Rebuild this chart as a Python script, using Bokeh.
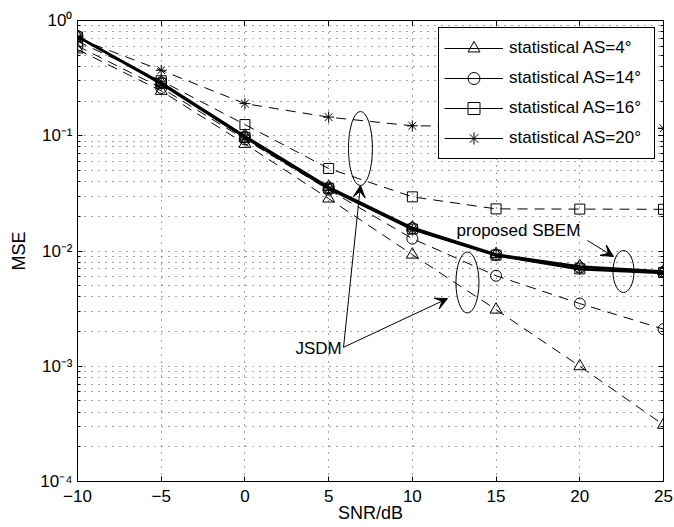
from bokeh.plotting import figure
from bokeh.models import (Range1d, FixedTicker, CustomJSTickFormatter, LinearAxis, LogAxis,
                          Legend, LegendItem, Label, Arrow, VeeHead)
from bokeh.core.properties import value
from bokeh.embed import file_html
from bokeh.resources import INLINE

# ---------------- data ----------------
snr = [-10, -5, 0, 5, 10, 15, 20, 25]

# statistical (JSDM) curves, dashed
stat_as4 = [0.56, 0.245, 0.085, 0.0285, 0.0093, 0.0031, 0.00100, 0.00031]
stat_as14 = [0.60, 0.26, 0.093, 0.034, 0.0128, 0.0061, 0.0035, 0.0021]
stat_as16 = [0.66, 0.30, 0.125, 0.052, 0.0295, 0.0232, 0.0231, 0.0230]
stat_as20 = [0.70, 0.37, 0.19, 0.145, 0.122, 0.120, 0.118, 0.116]

# proposed SBEM curves, solid
sbem_as4 = [0.73, 0.29, 0.100, 0.0360, 0.0160, 0.0094, 0.0074, 0.0067]
sbem_as14 = [0.73, 0.29, 0.098, 0.0355, 0.0158, 0.0093, 0.0072, 0.0066]
sbem_as16 = [0.72, 0.285, 0.097, 0.0350, 0.0155, 0.0092, 0.0070, 0.0065]
sbem_as20 = [0.72, 0.28, 0.096, 0.0345, 0.0153, 0.0091, 0.0069, 0.0064]

legend_labels = ["statistical AS=4°", "statistical AS=14°",
                 "statistical AS=16°", "statistical AS=20°"]

x_ticks = [-10, -5, 0, 5, 10, 15, 20, 25]
x_tick_labels = ["\u221210", "\u22125", "0", "5", "10", "15", "20", "25"]
y_ticks = [1e-4, 1e-3, 1e-2, 1e-1, 1.0]
y_tick_labels = ["10\u207b\u2074", "10\u207b\u00b3", "10\u207b\u00b2", "10\u207b\u00b9", "10\u2070"]
y_minor = [k * 10.0 ** e for e in range(-4, 0) for k in range(2, 10)]

FONT = "Liberation Sans"
NAN = float("nan")

# ---------------- figure ----------------
p = figure(width=674, height=527, x_range=Range1d(-10, 25), y_range=Range1d(1e-4, 1),
           y_axis_type="log", output_backend="svg", toolbar_location=None,
           min_border_left=77, min_border_right=11, min_border_top=20, min_border_bottom=46)
p.background_fill_color = "white"
p.outline_line_color = "black"
p.outline_line_width = 1

fmt_code = """
let best = 0, bd = Infinity;
for (let i = 0; i < tvals.length; i++) {
  const d = Math.abs(sc(tick) - sc(tvals[i]));
  if (d < bd) { bd = d; best = i; }
}
return tlabels[best];
"""
xfmt = CustomJSTickFormatter(args=dict(tvals=x_ticks, tlabels=x_tick_labels),
                             code="const sc = (v) => v;" + fmt_code)
yfmt = CustomJSTickFormatter(args=dict(tvals=y_ticks, tlabels=y_tick_labels),
                             code="const sc = (v) => Math.log10(v);" + fmt_code)

xa = p.xaxis[0]
xa.ticker = FixedTicker(ticks=x_ticks)
xa.formatter = xfmt
xa.axis_label = "SNR/dB"
ya = p.yaxis[0]
ya.ticker = FixedTicker(ticks=y_ticks, minor_ticks=y_minor)
ya.formatter = yfmt
ya.axis_label = "MSE"

for ax in (xa, ya):
    ax.axis_line_color = "black"
    ax.major_tick_line_color = "black"
    ax.minor_tick_line_color = "black"
    ax.major_tick_in = 5
    ax.major_tick_out = 0
    ax.minor_tick_in = 3
    ax.minor_tick_out = 0
    ax.major_label_text_font = FONT
    ax.major_label_text_font_size = "17px"
    ax.major_label_text_color = "black"
    ax.axis_label_text_font = FONT
    ax.axis_label_text_font_size = "18px"
    ax.axis_label_text_font_style = "normal"
    ax.axis_label_text_color = "black"
xa.major_label_standoff = 8
xa.axis_label_standoff = -2
ya.major_label_standoff = 5
ya.axis_label_standoff = 8

top = LinearAxis(ticker=FixedTicker(ticks=x_ticks), major_label_text_font_size="1px",
                 major_label_text_alpha=0, major_tick_in=5, major_tick_out=0,
                 major_label_standoff=0,
                 axis_line_color="black", major_tick_line_color="black")
right = LogAxis(ticker=FixedTicker(ticks=y_ticks, minor_ticks=y_minor),
                major_label_text_font_size="1px", major_label_text_alpha=0,
                major_tick_in=5, major_tick_out=0,
                minor_tick_in=3, minor_tick_out=0, major_label_standoff=0,
                axis_line_color="black", major_tick_line_color="black",
                minor_tick_line_color="black")
p.add_layout(top, "above")
p.add_layout(right, "right")

grid_color = "#444444"
p.xgrid.grid_line_color = grid_color
p.xgrid.grid_line_dash = "1 6"
p.xgrid.ticker = FixedTicker(ticks=x_ticks)
p.ygrid.grid_line_color = grid_color
p.ygrid.grid_line_dash = "1 6"
p.ygrid.minor_grid_line_color = grid_color
p.ygrid.minor_grid_line_dash = "1 6"
p.ygrid.ticker = FixedTicker(ticks=y_ticks, minor_ticks=y_minor)

markers = ["triangle", "circle", "square", "asterisk"]
msizes = [12, 11, 10, 11]
stats = [stat_as4, stat_as14, stat_as16, stat_as20]
sbems = [sbem_as4, sbem_as14, sbem_as16, sbem_as20]

for vals, m, s in zip(stats, markers, msizes):
    p.line(snr, vals, line_color="black", line_width=1, line_dash="10 7")
    p.scatter(snr, vals, marker=m, size=s, line_color="black", fill_color=None, line_width=1)

for vals, m, s in zip(sbems, markers, msizes):
    p.line(snr, vals, line_color="black", line_width=1.8)
    p.scatter(snr, vals, marker=m, size=s, line_color="black", fill_color=None, line_width=1)

# legend using proxy renderers (thin solid line + marker, no visible data)
items = []
for lab, m, s in zip(legend_labels, markers, msizes):
    lr = p.line(x=[NAN], y=[NAN], line_color="black", line_width=1)
    sr = p.scatter(x=[NAN], y=[NAN], marker=m, size=s, line_color="black",
                   fill_color=None, line_width=1)
    items.append(LegendItem(label=lab, renderers=[lr, sr]))
legend = Legend(items=items, location=(361, 322), padding=5, spacing=0, margin=0,
                glyph_width=59, glyph_height=30, label_height=30, label_width=140,
                label_standoff=6, label_text_font=FONT, label_text_font_size="17px",
                label_text_color="black", border_line_color="black", border_line_width=1,
                border_line_alpha=1, background_fill_color="white", background_fill_alpha=1)
p.add_layout(legend)

# ellipses marking groups of curves
ell_x = [6.90, 13.29, 22.61]
ell_y = [0.0775, 0.00533, 0.00664]
ell_w = [24, 23, 21]
ell_h = [74, 61, 42]
p.ellipse(x=ell_x, y=ell_y, width=ell_w, height=ell_h, width_units="screen",
          height_units="screen", fill_color=None, line_color="black", line_width=1)

# arrows
arrows = [((5.89, 0.00146), (6.90, 0.037)),
          ((5.89, 0.00146), (12.10, 0.00387)),
          ((20.46, 0.01233), (22.01, 0.00896))]
for (xs, ys), (xe, ye) in arrows:
    p.add_layout(Arrow(x_start=xs, y_start=ys, x_end=xe, y_end=ye, line_color="black",
                       line_width=1, end=VeeHead(size=12, fill_color="black",
                                                 line_color="black", line_width=1)))

p.add_layout(Label(x=3.02, y=0.00143, text="JSDM", text_align="left", text_baseline="middle",
                   text_font=FONT, text_font_size="17px", text_color="black"))
p.add_layout(Label(x=12.64, y=0.01507, text="proposed SBEM", text_align="left",
                   text_baseline="middle", text_font=FONT, text_font_size="17px",
                   text_color="black"))

open("out.html", "w").write(file_html(p, INLINE))
